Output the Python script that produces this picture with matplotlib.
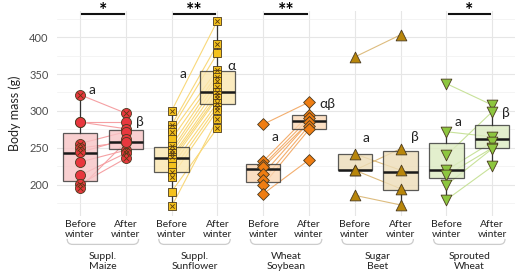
import matplotlib
matplotlib.use("Agg")
import matplotlib.pyplot as plt
import matplotlib.transforms as mtrans
from matplotlib.path import Path
from matplotlib.patches import PathPatch

plt.rcParams['font.family'] = ['Lato', 'DejaVu Sans']

# ---- data ----
groups = ["Suppl.\nMaize", "Suppl.\nSunflower", "Wheat\nSoybean", "Sugar\nBeet", "Sprouted\nWheat"]
tick_labels = ["Before\nwinter", "After\nwinter"] * 5

maize_before = [322, 285, 285, 256, 250, 244, 231, 213, 201, 196]
maize_after = [297, 285, 276, 272, 258, 262, 247, 243, 236, 258]
maize_mark_b = [1, 0, 0, 1, 1, 1, 0, 0, 1, 1]
maize_mark_a = [1, 0, 0, 0, 0, 0, 1, 1, 1, 0]

sunf_before = [300, 281, 276, 271, 262, 253, 247, 243, 238, 235, 231, 225, 218, 211, 191, 171]
sunf_after = [422, 390, 378, 356, 350, 346, 340, 333, 326, 321, 318, 311, 306, 301, 277, 289]
sunf_mark_b = [1, 1, 0, 1, 0, 1, 1, 1, 1, 0, 0, 0, 1, 1, 0, 1]
sunf_mark_a = [1, 1, 0, 1, 0, 1, 1, 1, 1, 1, 1, 1, 1, 1, 1, 1]

soy_before = [282, 232, 227, 224, 215, 207, 200, 188]
soy_after = [312, 295, 290, 285, 285, 280, 275, 234]

beet_before = [373, 242, 220, 220, 186]
beet_after = [403, 220, 249, 195, 173]

wheat_before = [337, 272, 240, 220, 213, 200, 180]
wheat_after = [308, 265, 299, 258, 250, 249, 225]

# box stats: q1, median, q3, lower whisker, upper whisker
box_q1 = [206, 248, 218, 309, 204, 275, 220, 193, 209, 250]
box_med = [243, 258, 236, 325, 222, 286, 220, 218, 220, 262]
box_q3 = [270, 274, 252, 354, 229, 295, 242, 246, 257, 281]
box_lo = [196, 236, 171, 277, 188, 275, 220, 173, 180, 225]
box_hi = [322, 297, 300, 422, 232, 312, 242, 246, 272, 308]

letters_before = ["a", "a", "a", "a", "a"]
letters_after = ["β", "α", "αβ", "β", "β"]
letter_before_y = [328, 350, 265, 263, 285]
letter_after_y = [285, 361, 310, 265, 297]
signif = ["*", "**", "**", "", "*"]

# ---- styling ----
point_col = ['#E8373E', '#F4C11C', '#EF7D12', '#B8860B', '#8DC63F']
line_col = ['#F5A0A3', '#F9D87A', '#F3AE6E', '#DDBC7E', '#C8E29A']
box_col = ['#F7C3C5', '#FBE7B0', '#FAD7B4', '#EDDDB8', '#DCEBC1']
markers = ['o', 's', 'D', '^', 'v']
msize = [52, 28, 36, 60, 60]

pairs = [(maize_before, maize_after), (sunf_before, sunf_after), (soy_before, soy_after),
         (beet_before, beet_after), (wheat_before, wheat_after)]
marks = [(maize_mark_b, maize_mark_a), (sunf_mark_b, sunf_mark_a), None, None, None]

fig = plt.figure(figsize=(5.2, 2.74), dpi=100)
ax = fig.add_axes([0.1098, 0.2128, 0.8808, 0.7453])

# paired lines
for g, (b, a) in enumerate(pairs):
    xb, xa = 2 * g + 1, 2 * g + 2
    for vb, va in zip(b, a):
        ax.plot([xb, xa], [vb, va], color=line_col[g], lw=0.8, zorder=2)

# boxes
stats = []
for i in range(10):
    stats.append(dict(q1=box_q1[i], med=box_med[i], q3=box_q3[i],
                      whislo=box_lo[i], whishi=box_hi[i], fliers=[]))
bp = ax.bxp(stats, positions=range(1, 11), widths=0.75, patch_artist=True,
            showfliers=False, showcaps=False,
            boxprops=dict(edgecolor='#333333', lw=0.9),
            whiskerprops=dict(color='#333333', lw=0.9),
            medianprops=dict(color='#1A1A1A', lw=1.8), zorder=3)
for i, patch in enumerate(bp['boxes']):
    patch.set_facecolor(box_col[i // 2])
    patch.set_alpha(0.8)
    patch.set_edgecolor('#333333')

# points
for g, (b, a) in enumerate(pairs):
    for k, vals in enumerate((b, a)):
        xpos = [2 * g + 1 + k] * len(vals)
        ax.scatter(xpos, vals, s=msize[g], marker=markers[g], facecolor=point_col[g],
                   edgecolor='#4A3A20', linewidth=0.6, zorder=4)
        if marks[g] is not None:
            mk = marks[g][k]
            xs = [x for x, m in zip(xpos, mk) if m]
            ys = [v for v, m in zip(vals, mk) if m]
            ax.scatter(xs, ys, s=msize[g] * 0.35, marker='x', color='#5A3A10',
                       linewidth=0.6, zorder=5)

# axes, grid, ticks (after bxp, which resets the x ticks)
ax.set_xlim(0.5, 10.5)
ax.set_ylim(158.5, 434.5)
ax.set_yticks([200, 250, 300, 350, 400])
ax.set_yticks([175, 225, 275, 325, 375, 425], minor=True)
ax.grid(True, which='major', axis='y', color='#E6E6E6', lw=0.8)
ax.grid(True, which='minor', axis='y', color='#F0F0F0', lw=0.5)
ax.set_xticks(range(1, 11))
ax.set_xticklabels(tick_labels, linespacing=1.15)
ax.grid(True, which='major', axis='x', color='#E6E6E6', lw=0.8)
ax.set_axisbelow(True)
for s in ax.spines.values():
    s.set_visible(False)
ax.tick_params(which='both', length=0)
ax.tick_params(axis='y', labelsize=8, colors='#4D4D4D', pad=6)
ax.tick_params(axis='x', labelsize=7.5, colors='#222222', pad=3)
ax.set_ylabel("Body mass (g)", fontsize=9, color='#222222', labelpad=6)

# letters
for g in range(5):
    ax.text(2 * g + 1 + 0.18, letter_before_y[g], letters_before[g], fontsize=10,
            color='#222222', ha='left', va='center', zorder=6)
    ax.text(2 * g + 2 + 0.22, letter_after_y[g], letters_after[g], fontsize=10,
            color='#222222', ha='left', va='center', zorder=6)

# significance bars
for g in range(5):
    if signif[g]:
        ax.plot([2 * g + 1.05, 2 * g + 1.95], [431, 431], color='#111111', lw=1.5,
                clip_on=False, zorder=6)
        ax.text(2 * g + 1.5, 425, signif[g], fontsize=14, fontweight='bold',
                ha='center', va='bottom', clip_on=False)

# group brackets and labels
trans = mtrans.blended_transform_factory(ax.transData, fig.transFigure)
for g in range(5):
    x0, x1 = 2 * g + 1 - 0.28, 2 * g + 2 + 0.28
    yt, yb = 0.128, 0.108
    verts = [(x0, yt), (x0, yb), (x0 + 0.12, yb), (x1 - 0.12, yb), (x1, yb), (x1, yt)]
    codes = [Path.MOVETO, Path.CURVE3, Path.CURVE3, Path.LINETO, Path.CURVE3, Path.CURVE3]
    ax.add_patch(PathPatch(Path(verts, codes), transform=trans, fill=False,
                           edgecolor='#CCCCCC', lw=0.9, clip_on=False))
    ax.text(2 * g + 1.5, 0.046, groups[g], transform=trans, fontsize=7.5,
            ha='center', va='center', color='#222222', linespacing=1.25)

fig.savefig("out.png", dpi=100)
